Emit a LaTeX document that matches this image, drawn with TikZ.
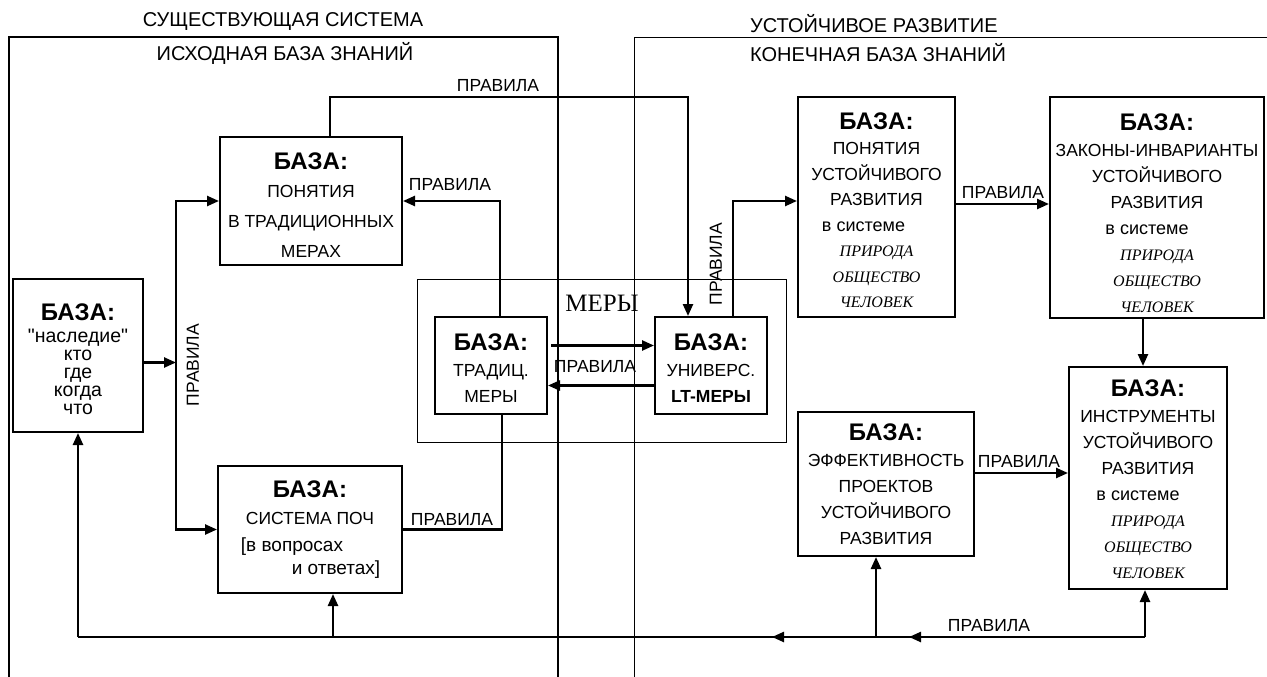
\documentclass[tikz,border=0pt]{standalone}
\usepackage{fontspec}
\setmainfont{Liberation Serif}
\setsansfont{Liberation Sans}
\usetikzlibrary{arrows.meta}

\newcommand{\baza}[1][17pt]{\rule{0pt}{#1}{\bfseries\fontsize{24}{24}\selectfont БАЗА:}}
\newcommand{\prir}[1]{{\rmfamily\itshape\fontsize{16}{16}\selectfont #1}}
\newcommand{\vsist}[1]{{\fontsize{18}{18}\selectfont в системе}\hspace*{#1}\mbox{}}

\tikzset{
  box/.style={draw, line width=2pt, align=center, inner sep=0pt,
    font=\sffamily\fontsize{17.5}{26}\selectfont},
  lbl/.style={inner sep=0pt, font=\sffamily\fontsize{17.5}{17.5}\selectfont},
  ttl/.style={inner sep=0pt, font=\sffamily\fontsize{20}{20}\selectfont},
  conn/.style={line width=2.4pt},
}

\begin{document}
\begin{tikzpicture}[x=1pt,y=-1pt,>={Triangle[length=12pt,width=10pt]}]
  \useasboundingbox (0,0) rectangle (1267,677);

  % frames
  \draw[line width=1.6pt] (9,677) -- (9,37) -- (558,37) -- (558,677);
  \draw[line width=0.9pt] (634,677) -- (634,37) -- (1267,37);
  \draw[line width=0.9pt] (417,279) rectangle (786,442);

  \node[ttl] (tsys) at (283,22) {СУЩЕСТВУЮЩАЯ СИСТЕМА};
  \node[ttl] (tisx) at (285,53) {ИСХОДНАЯ БАЗА ЗНАНИЙ};
  \node[ttl,anchor=west] (tust) at (750,24) {УСТОЙЧИВОЕ РАЗВИТИЕ};
  \node[ttl,anchor=west] (tkon) at (750,53) {КОНЕЧНАЯ БАЗА ЗНАНИЙ};
  \node[inner sep=0pt,font=\rmfamily\fontsize{25}{25}\selectfont] (tmery) at (602,303) {МЕРЫ};

  % boxes
  \node[box,minimum width=130pt,minimum height=153pt,
    font=\sffamily\fontsize{19.5}{18}\selectfont] (nasl) at (78,355.5)
    {\baza[25pt]\\[4pt]\textquotedbl наследие\textquotedbl\\кто\\где\\когда\\что};
  \node[box,minimum width=182pt,minimum height=128pt,
    font=\sffamily\fontsize{17.5}{30}\selectfont] (pontrad) at (311,201)
    {\baza[25pt]\\[-2pt]ПОНЯТИЯ\\В ТРАДИЦИОННЫХ\\МЕРАХ};
  \node[box,minimum width=184pt,minimum height=127pt,
    font=\sffamily\fontsize{17.5}{27}\selectfont] (poch) at (310,529.5)
    {\baza\\СИСТЕМА ПОЧ\\{\fontsize{19}{19}\selectfont [в вопросах}\hspace*{36pt}\mbox{}\\[-4pt]
     \hspace*{52pt}{\fontsize{19}{19}\selectfont и ответах]}};
  \node[box,minimum width=112pt,minimum height=97pt] (tradm) at (491,365.5)
    {\baza[21pt]\\ТРАДИЦ.\\МЕРЫ};
  \node[box,minimum width=112pt,minimum height=97pt] (univ) at (711,365.5)
    {\baza[21pt]\\УНИВЕРС.\\\textbf{LT-МЕРЫ}};
  \node[box,minimum width=157pt,minimum height=220pt,
    font=\sffamily\fontsize{17.5}{25.5}\selectfont] (ponur) at (876.5,207)
    {\baza[23pt]\\ПОНЯТИЯ\\УСТОЙЧИВОГО\\РАЗВИТИЯ\\\vsist{26pt}\\
     \prir{ПРИРОДА}\\\prir{ОБЩЕСТВО}\\\prir{ЧЕЛОВЕК}};
  \node[box,minimum width=214pt,minimum height=221pt] (zakony) at (1157,207.5)
    {\baza[29pt]\\ЗАКОНЫ-ИНВАРИАНТЫ\\УСТОЙЧИВОГО\\РАЗВИТИЯ\\\vsist{20pt}\\
     \prir{ПРИРОДА}\\\prir{ОБЩЕСТВО}\\\prir{ЧЕЛОВЕК}};
  \node[box,minimum width=158pt,minimum height=222pt] (instr) at (1148,478)
    {\baza[20pt]\\ИНСТРУМЕНТЫ\\УСТОЙЧИВОГО\\РАЗВИТИЯ\\\vsist{20pt}\\
     \prir{ПРИРОДА}\\\prir{ОБЩЕСТВО}\\\prir{ЧЕЛОВЕК}};
  \node[box,minimum width=176pt,minimum height=144pt] (effekt) at (886,484)
    {\baza\\ЭФФЕКТИВНОСТЬ\\ПРОЕКТОВ\\УСТОЙЧИВОГО\\РАЗВИТИЯ};

  % left part
  \coordinate (trunk) at (176,0);
  \draw[conn,->] ([yshift=-7pt]nasl.east) -- ([yshift=-7pt]nasl.east -| trunk);
  \draw[conn,->] (trunk |- poch.west) -- (trunk |- pontrad.west) -- (pontrad.west);
  \draw[conn,->] (trunk |- pontrad.west) -- (trunk |- poch.west) -- (poch.west);
  \node[lbl,rotate=90] (lv1) at (193,365) {ПРАВИЛА};

  \coordinate (topR) at (688,97);
  \draw[conn,->] ([xshift=19pt]pontrad.north) |- (topR) -- (topR |- univ.north);
  \node[lbl] (lt1) at (498,86) {ПРАВИЛА};

  \draw[conn,->] ([xshift=9pt]tradm.north) |- (pontrad.east);
  \node[lbl] (lt2) at (450,185) {ПРАВИЛА};
  \draw[conn] ([xshift=11pt]tradm.south) |- (poch.east);
  \node[lbl] (lt3) at (452,520) {ПРАВИЛА};

  % measures
  \draw[conn,->] ([xshift=3pt,yshift=20pt]tradm.east) -- ([yshift=20pt]univ.west);
  \draw[conn,->] ([yshift=-20pt]univ.west) -- ([yshift=-20pt]tradm.east);
  \node[lbl] (lt4) at (595,367) {ПРАВИЛА};

  % right part
  \draw[conn,->] ([xshift=22pt]univ.north) |- ([yshift=6pt]ponur.west);
  \node[lbl,rotate=90] (lv2) at (716,264) {ПРАВИЛА};
  \draw[conn,->] ([yshift=3pt]ponur.east) -- ([yshift=3pt]ponur.east -| zakony.west);
  \node[lbl] (lt5) at (1003,193) {ПРАВИЛА};
  \draw[conn,->] ([xshift=-5pt]instr.north |- zakony.south) -- ([xshift=-5pt]instr.north);
  \draw[conn,->] ([yshift=11pt]effekt.east) -- ([yshift=11pt]effekt.east -| instr.west);
  \node[lbl] (lt6) at (1019,462) {ПРАВИЛА};

  % bottom line
  \coordinate (bot) at (0,637);
  \coordinate (m1) at (909,637);
  \coordinate (m2) at (772,637);
  \draw[conn] ([xshift=-3pt]instr.south |- bot) -- (nasl.south |- bot);
  \draw[conn,->] ([xshift=-3pt]instr.south |- bot) -- (m1);
  \draw[conn,->] ([xshift=-10pt]effekt.south |- bot) -- (m2);
  \draw[conn,->] ([xshift=-3pt]instr.south |- bot) -- ([xshift=-3pt]instr.south);
  \draw[conn,->] ([xshift=-10pt]effekt.south |- bot) -- ([xshift=-10pt]effekt.south);
  \draw[conn,->] ([xshift=23pt]poch.south |- bot) -- ([xshift=23pt]poch.south);
  \draw[conn,->] (nasl.south |- bot) -- (nasl.south);
  \node[lbl] (lt7) at (989,626) {ПРАВИЛА};
\end{tikzpicture}
\end{document}
